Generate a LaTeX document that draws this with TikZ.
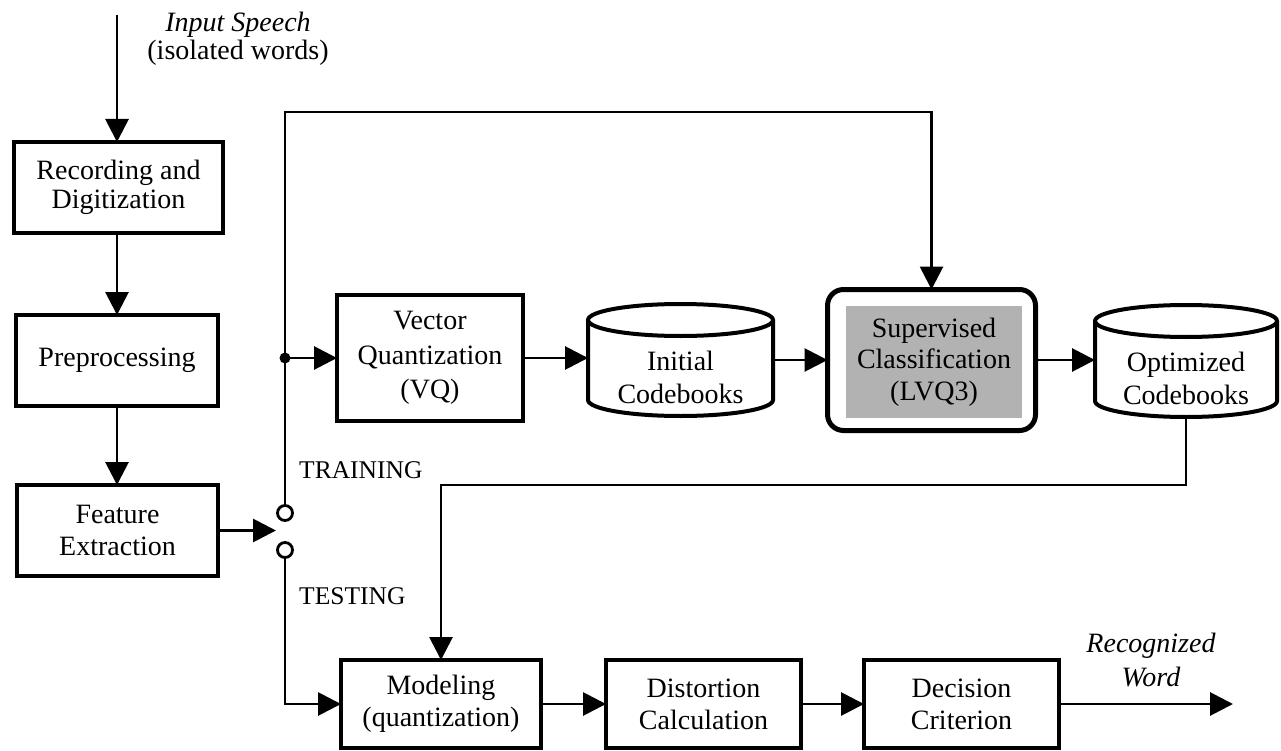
\documentclass[tikz,border=0pt]{standalone}
\usepackage{fontspec}
\setmainfont{Liberation Serif}
\usetikzlibrary{calc,arrows.meta}
\definecolor{lvqgray}{RGB}{178,178,178}
\def\cyoff{18}
\def\cyrad{16}
\tikzset{
  blk/.style={draw,line width=4.5pt,align=center,inner sep=0pt,outer sep=0pt,
    font=\fontsize{28}{32}\selectfont},
  cbtext/.style={align=center,inner sep=0pt,outer sep=0pt,minimum height=78,
    font=\fontsize{28}{33}\selectfont},
  cyl/.style={line width=4pt},
  conn/.style={line width=2.9pt,-{Triangle[length=23pt,width=23pt]}},
  swpin/.style={circle,draw,fill=white,line width=2.8pt,minimum size=15pt,inner sep=0pt,outer sep=0pt},
  lbl/.style={inner sep=0pt,font=\fontsize{25.5}{28}\selectfont},
}
\begin{document}
\begin{tikzpicture}[x=1pt,y=-1pt]
\useasboundingbox (0,0) rectangle (1281,751);
% left column
\node[blk,minimum width=209,minimum height=91,font=\fontsize{28}{29}\selectfont] (rec) at (118.5,187.5) {Recording and\\Digitization};
\node[blk,minimum width=202,minimum height=91] (pre) at (117,360.5) {Preprocessing};
\node[blk,minimum width=201,minimum height=91] (feat) at (117.5,530.5) {Feature\\Extraction};
\coordinate (inp) at (117,15);
\node[align=center,inner sep=0pt,font=\fontsize{28}{28}\selectfont] (inlbl) at (238,39) {\textit{Input Speech}\\(isolated words)};
% switch
\node[swpin] (train) at (285,513) {};
\node[swpin] (test) at (285,550) {};
\coordinate (swin) at ([xshift=58pt]feat.east);
\node[lbl,anchor=west] (trlbl) at (299,470) {TRAINING};
\node[lbl,anchor=west] (telbl) at (299,596) {TESTING};
% training row
\node[blk,minimum width=186,minimum height=126,font=\fontsize{28}{34.5}\selectfont] (vq) at (430,358) {Vector\\Quantization\\(VQ)};
\node[cbtext,minimum width=185] (initcb) at (680.5,377) {Initial\\Codebooks};
\node[draw,line width=5pt,rounded corners=16pt,minimum width=208,minimum height=141,outer sep=0pt] (lvqbox) at (931.5,360) {};
\node[fill=lvqgray,minimum width=176,minimum height=112,align=center,inner sep=0pt,
  font=\fontsize{28}{31.5}\selectfont] (lvq) at (934,362) {Supervised\\Classification\\(LVQ3)};
\node[cbtext,minimum width=182] (optcb) at (1186,378) {Optimized\\Codebooks};
\foreach \cb/\rx in {initcb/92.5,optcb/91} {
  \draw[cyl] ($(\cb.north)+(0,-\cyoff)$) ellipse[x radius=\rx pt,y radius=\cyrad pt];
  \draw[cyl] ($(\cb.north west)+(0,-\cyoff)$) -- ($(\cb.south west)+(0,-\cyrad)$)
    arc[start angle=180,end angle=360,x radius=\rx pt,y radius=\cyrad pt]
    -- ($(\cb.north east)+(0,-\cyoff)$);
}
% testing row
\node[blk,minimum width=200,minimum height=88] (model) at (441,704) {Modeling\\(quantization)};
\node[blk,minimum width=195,minimum height=88] (dist) at (703.5,704) {Distortion\\Calculation};
\node[blk,minimum width=195,minimum height=88] (dec) at (961.5,704) {Decision\\Criterion};
\coordinate (outp) at (1233,704);
\node[align=center,inner sep=0pt,font=\fontsize{28}{34}\selectfont\itshape] (outlbl) at (1151,660) {Recognized\\Word};
% connectors
\coordinate (topl) at (600,112);
\coordinate (retl) at (800,485);
\coordinate (branch) at (train.north |- vq.west);
\draw[conn] (inp) -- (inp |- rec.north);
\draw[conn] (pre.north |- rec.south) -- (pre.north);
\draw[conn] (pre.south) -- (pre.south |- feat.north);
\draw[conn] (feat.east) -- (swin);
\draw[conn] (train.north) |- (topl) -| (lvqbox.north);
\fill (branch) circle (5.5pt);
\draw[conn] (branch) -- (vq.west);
\draw[conn] (vq.east) -- (vq.east -| initcb.west);
\draw[conn] (initcb.east |- lvqbox.west) -- (lvqbox.west);
\draw[conn] (lvqbox.east) -- (lvqbox.east -| optcb.west);
\draw[conn] (optcb.south) |- (retl) -| (model.north);
\draw[conn] (test.south) |- (model.west);
\draw[conn] (model.east) -- (dist.west);
\draw[conn] (dist.east) -- (dec.west);
\draw[conn] (dec.east) -- (outp);
\end{tikzpicture}
\end{document}
